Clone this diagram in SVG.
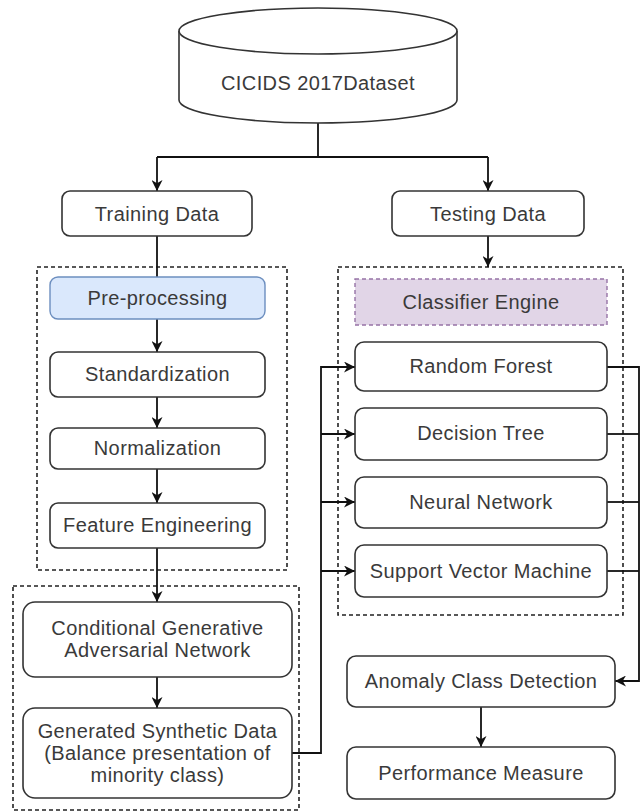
<svg xmlns="http://www.w3.org/2000/svg" width="641" height="812" viewBox="0 0 641 812">
  <defs>
    <marker id="arrow" viewBox="0 0 10 10" refX="10" refY="5" markerWidth="12" markerHeight="11" markerUnits="userSpaceOnUse" orient="auto">
      <path d="M0,0 L10,5 L0,10 L3,5 Z" fill="#111"/>
    </marker>
    <style>
      .box { fill: #ffffff; stroke: #333333; stroke-width: 1.6; }
      .blue { fill: #dae8fc; stroke: #6c8ebf; stroke-width: 1.4; }
      .purple { fill: #e1d5e7; stroke: #9673a6; stroke-width: 1.4; stroke-dasharray: 4 3; }
      .group { fill: none; stroke: #222222; stroke-width: 1.6; stroke-dasharray: 4 3; }
      .lbl { font-family: "Liberation Sans", Arial, sans-serif; font-size: 20px; letter-spacing: 0.4px; fill: #3a3a3a; text-anchor: middle; }
      .edge { fill: none; stroke: #111111; stroke-width: 1.8; }
    </style>
  </defs>

  <rect width="641" height="812" fill="#ffffff"/>

  <!-- dashed grouping frames -->
  <g id="frames">
    <rect class="group" x="37" y="267" width="250" height="303"/>
    <rect class="group" x="13" y="586" width="286" height="224"/>
    <rect class="group" x="338" y="267" width="285" height="348"/>
  </g>

  <!-- connectors -->
  <g id="connectors">
    <path class="edge" d="M318,123 V157"/>
    <path class="edge" d="M157,157 H488"/>
    <path class="edge" d="M157,157 V191" marker-end="url(#arrow)"/>
    <path class="edge" d="M488,157 V191" marker-end="url(#arrow)"/>
    <path class="edge" d="M157,236 V277"/>
    <path class="edge" d="M488,236 V267" marker-end="url(#arrow)"/>
    <path class="edge" d="M157,319 V352" marker-end="url(#arrow)"/>
    <path class="edge" d="M157,397 V428" marker-end="url(#arrow)"/>
    <path class="edge" d="M157,469 V503" marker-end="url(#arrow)"/>
    <path class="edge" d="M157,548 V602" marker-end="url(#arrow)"/>
    <path class="edge" d="M157,677 V708" marker-end="url(#arrow)"/>
    <path class="edge" d="M292,753 H321 V367 H355" marker-end="url(#arrow)"/>
    <path class="edge" d="M321,434 H355" marker-end="url(#arrow)"/>
    <path class="edge" d="M321,502 H355" marker-end="url(#arrow)"/>
    <path class="edge" d="M321,571 H355" marker-end="url(#arrow)"/>
    <path class="edge" d="M607,367 H639 V681 H615" marker-end="url(#arrow)"/>
    <path class="edge" d="M607,434 H639"/>
    <path class="edge" d="M607,502 H639"/>
    <path class="edge" d="M607,571 H639"/>
    <path class="edge" d="M481,707 V747" marker-end="url(#arrow)"/>
  </g>

  <!-- dataset cylinder -->
  <g id="dataset">
    <path class="box" d="M179,31 V100 A139,23 0 0 0 457,100 V31"/>
    <ellipse class="box" cx="318" cy="31" rx="139" ry="23"/>
    <text class="lbl" x="318" y="90">CICIDS 2017Dataset</text>
  </g>

  <g id="training">
    <rect class="box" x="62" y="191" width="190" height="45" rx="8"/>
    <text class="lbl" x="157" y="221">Training Data</text>
  </g>
  <g id="testing">
    <rect class="box" x="392" y="191" width="192" height="45" rx="8"/>
    <text class="lbl" x="488" y="221">Testing Data</text>
  </g>

  <g id="preprocessing">
    <rect class="blue" x="50" y="277" width="215" height="42" rx="8"/>
    <text class="lbl" x="157.5" y="305">Pre-processing</text>
  </g>
  <g id="standardization">
    <rect class="box" x="50" y="352" width="215" height="45" rx="8"/>
    <text class="lbl" x="157.5" y="381">Standardization</text>
  </g>
  <g id="normalization">
    <rect class="box" x="50" y="428" width="215" height="41" rx="8"/>
    <text class="lbl" x="157.5" y="455">Normalization</text>
  </g>
  <g id="feature-engineering">
    <rect class="box" x="50" y="503" width="215" height="45" rx="8"/>
    <text class="lbl" x="157.5" y="532">Feature Engineering</text>
  </g>

  <g id="cgan">
    <rect class="box" x="23" y="602" width="269" height="75" rx="12"/>
    <text class="lbl" x="157.5" y="635">Conditional Generative</text>
    <text class="lbl" x="157.5" y="657">Adversarial Network</text>
  </g>
  <g id="synthetic">
    <rect class="box" x="23" y="708" width="269" height="90" rx="12"/>
    <text class="lbl" x="157.5" y="738">Generated Synthetic Data</text>
    <text class="lbl" x="157.5" y="760">(Balance presentation of</text>
    <text class="lbl" x="157.5" y="782">minority class)</text>
  </g>

  <g id="classifier-engine">
    <rect class="purple" x="355" y="279" width="252" height="46"/>
    <text class="lbl" x="481" y="309">Classifier Engine</text>
  </g>
  <g id="random-forest">
    <rect class="box" x="355" y="342" width="252" height="49" rx="9"/>
    <text class="lbl" x="481" y="373">Random Forest</text>
  </g>
  <g id="decision-tree">
    <rect class="box" x="355" y="408" width="252" height="52" rx="9"/>
    <text class="lbl" x="481" y="440">Decision Tree</text>
  </g>
  <g id="neural-network">
    <rect class="box" x="355" y="477" width="252" height="51" rx="9"/>
    <text class="lbl" x="481" y="509">Neural Network</text>
  </g>
  <g id="svm">
    <rect class="box" x="355" y="545" width="252" height="52" rx="9"/>
    <text class="lbl" x="481" y="578">Support Vector Machine</text>
  </g>

  <g id="anomaly-detection">
    <rect class="box" x="347" y="656" width="268" height="51" rx="9"/>
    <text class="lbl" x="481" y="688">Anomaly Class Detection</text>
  </g>
  <g id="performance">
    <rect class="box" x="347" y="747" width="268" height="52" rx="9"/>
    <text class="lbl" x="481" y="780">Performance Measure</text>
  </g>
</svg>
